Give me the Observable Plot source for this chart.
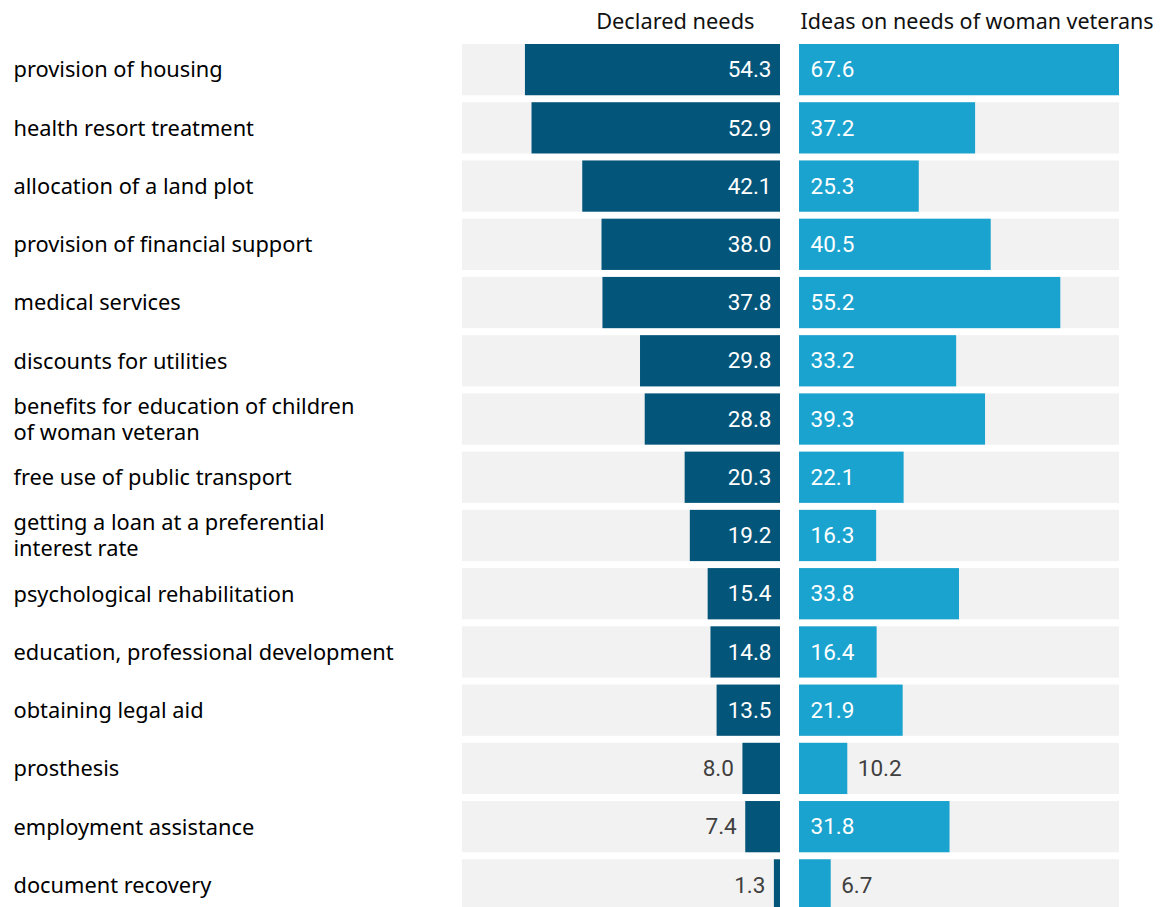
<!DOCTYPE html>
<html>
<head>
<meta charset="utf-8">
<script src="https://cdn.jsdelivr.net/npm/d3@7"></script>
<script src="https://cdn.jsdelivr.net/npm/@observablehq/plot@0.6"></script>
<style>
  html, body { margin: 0; padding: 0; background: #fff; overflow: hidden; }
  #wrap { position: relative; width: 1165px; height: 907px; overflow: hidden; }
  #wrap svg { display: block; position: absolute; top: 0; max-width: none !important; }
</style>
</head>
<body>
<div id="wrap"></div>
<script>
const categories = [
  "provision of housing",
  "health resort treatment",
  "allocation of a land plot",
  "provision of financial support",
  "medical services",
  "discounts for utilities",
  "benefits for education of children\nof woman veteran",
  "free use of public transport",
  "getting a loan at a preferential\ninterest rate",
  "psychological rehabilitation",
  "education, professional development",
  "obtaining legal aid",
  "prosthesis",
  "employment assistance",
  "document recovery"
];
const declaredNeeds = [54.3, 52.9, 42.1, 38.0, 37.8, 29.8, 28.8, 20.3, 19.2, 15.4, 14.8, 13.5, 8.0, 7.4, 1.3];
const ideasNeeds = [67.6, 37.2, 25.3, 40.5, 55.2, 33.2, 39.3, 22.1, 16.3, 33.8, 16.4, 21.9, 10.2, 31.8, 6.7];
const seriesTitles = ["Declared needs", "Ideas on needs of woman veterans"];

const data = categories.map((c, i) => ({category: c, declared: declaredNeeds[i], ideas: ideasNeeds[i]}));
const maxVal = d3.max([...declaredNeeds, ...ideasNeeds]);

const darkBlue = "#03557a";
const lightBlue = "#1ba3cf";
const bgGray = "#f2f2f2";
const outText = "#404040";
const labelFont = "Noto Sans, Open Sans, sans-serif";
const valueFont = "Roboto, sans-serif";
const threshold = 12;
const fmt = d3.format(".1f");

const yOpts = {domain: categories, paddingInner: 0.12, paddingOuter: 0.06, round: false, axis: null};
const H = 914;
const MT = 40.5;

const left = Plot.plot({
  width: 790,
  height: H,
  marginLeft: 462,
  marginRight: 10,
  marginTop: MT,
  marginBottom: 0,
  style: {fontFamily: valueFont, background: "transparent"},
  x: {domain: [0, maxVal + 0.1], reverse: true, axis: null},
  y: yOpts,
  marks: [
    Plot.barX(data, {x1: 0, x2: () => maxVal + 0.1, y: "category", fill: bgGray}),
    Plot.barX(data, {x: "declared", y: "category", fill: darkBlue}),
    Plot.text(data.filter(d => d.declared >= threshold), {x: () => 0, y: "category", text: d => fmt(d.declared), textAnchor: "end", dx: -9, fill: "white", fontSize: 22.5, fontFamily: valueFont}),
    Plot.text(data.filter(d => d.declared < threshold), {x: "declared", y: "category", text: d => fmt(d.declared), textAnchor: "end", dx: -9, fill: outText, fontSize: 22.5, fontFamily: valueFont}),
    Plot.text(data, {y: "category", text: "category", frameAnchor: "left", dx: -449, dy: -1, textAnchor: "start", lineAnchor: "middle", lineHeight: 1.2, fontSize: 21.8, fill: "#000", fontFamily: labelFont}),
    Plot.text([seriesTitles[0]], {text: d => d, frameAnchor: "top-right", textAnchor: "end", lineAnchor: "middle", dx: -26, dy: -19, fontSize: 21.8, fill: "#111", fontFamily: labelFont})
  ]
});

const right = Plot.plot({
  width: 375,
  height: H,
  marginLeft: 9,
  marginRight: 46,
  marginTop: MT,
  marginBottom: 0,
  style: {fontFamily: valueFont, background: "transparent"},
  x: {domain: [0, maxVal], axis: null},
  y: yOpts,
  marks: [
    Plot.barX(data, {x1: 0, x2: () => maxVal, y: "category", fill: bgGray}),
    Plot.barX(data, {x: "ideas", y: "category", fill: lightBlue}),
    Plot.text(data.filter(d => d.ideas >= threshold), {x: () => 0, y: "category", text: d => fmt(d.ideas), textAnchor: "start", dx: 11, fill: "white", fontSize: 22.5, fontFamily: valueFont}),
    Plot.text(data.filter(d => d.ideas < threshold), {x: "ideas", y: "category", text: d => fmt(d.ideas), textAnchor: "start", dx: 10, fill: outText, fontSize: 22.5, fontFamily: valueFont}),
    Plot.text([seriesTitles[1]], {text: d => d, frameAnchor: "top-left", textAnchor: "start", lineAnchor: "middle", dx: 1, dy: -19, fontSize: 21.5, fill: "#111", fontFamily: labelFont})
  ]
});

left.style.left = "0px";
right.style.left = "790px";
document.getElementById("wrap").append(left, right);
</script>
</body>
</html>
